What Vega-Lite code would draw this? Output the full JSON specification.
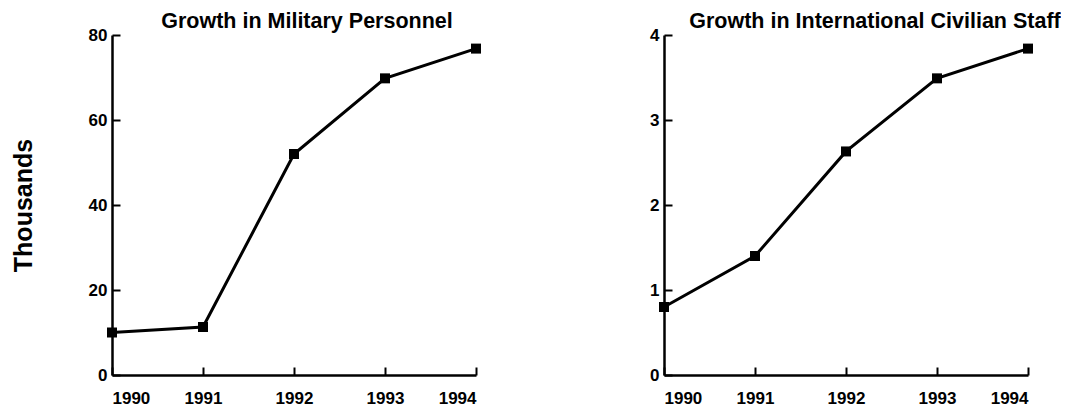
{
  "$schema": "https://vega.github.io/schema/vega-lite/v6.json",
  "background": "white",
  "padding": {"left": 11, "top": 10, "right": 0, "bottom": 0},
  "spacing": 167,
  "config": {
    "view": {"stroke": null},
    "font": "Liberation Sans",
    "axis": {
      "grid": false,
      "domainColor": "black",
      "domainWidth": 2.5,
      "tickColor": "black",
      "tickWidth": 2,
      "tickSize": -8,
      "labelFont": "Liberation Sans",
      "labelFontSize": 17,
      "labelFontWeight": "bold",
      "labelColor": "black"
    },
    "title": {"font": "Liberation Sans", "fontWeight": "bold", "color": "black"}
  },
  "hconcat": [
    {
      "width": 364,
      "height": 340,
      "title": {"text": "Growth in Military Personnel", "dx": 13, "offset": -6, "fontSize": 21.5},
      "data": {"values": [
        {"year": 1990, "value": 10},
        {"year": 1991, "value": 11.3},
        {"year": 1992, "value": 52},
        {"year": 1993, "value": 69.8},
        {"year": 1994, "value": 76.8}
      ]},
      "encoding": {
        "x": {"field": "year", "type": "quantitative", "scale": {"domain": [1990, 1994], "nice": false, "zero": false},
              "axis": {"values": [1990, 1991, 1992, 1993, 1994], "format": "d", "title": null, "labelPadding": 23}},
        "y": {"field": "value", "type": "quantitative", "scale": {"domain": [0, 80], "nice": false},
              "axis": {"values": [0, 20, 40, 60, 80], "title": "Thousands", "titleFontSize": 25, "titleFontWeight": "bold", "titleColor": "black", "titlePadding": 52, "labelPadding": 13}}
      },
      "layer": [
        {"mark": {"type": "line", "color": "black", "strokeWidth": 3}},
        {"mark": {"type": "point", "shape": "square", "filled": true, "color": "black", "size": 100, "opacity": 1}}
      ]
    },
    {
      "width": 364,
      "height": 340,
      "title": {"text": "Growth in International Civilian Staff", "dx": 29, "offset": -6, "fontSize": 21.5},
      "data": {"values": [
        {"year": 1990, "value": 0.8},
        {"year": 1991, "value": 1.4},
        {"year": 1992, "value": 2.63},
        {"year": 1993, "value": 3.49},
        {"year": 1994, "value": 3.84}
      ]},
      "encoding": {
        "x": {"field": "year", "type": "quantitative", "scale": {"domain": [1990, 1994], "nice": false, "zero": false},
              "axis": {"values": [1990, 1991, 1992, 1993, 1994], "format": "d", "title": null, "labelPadding": 23}},
        "y": {"field": "value", "type": "quantitative", "scale": {"domain": [0, 4], "nice": false},
              "axis": {"values": [0, 1, 2, 3, 4], "title": null, "labelPadding": 13}}
      },
      "layer": [
        {"mark": {"type": "line", "color": "black", "strokeWidth": 3}},
        {"mark": {"type": "point", "shape": "square", "filled": true, "color": "black", "size": 100, "opacity": 1}}
      ]
    }
  ]
}
